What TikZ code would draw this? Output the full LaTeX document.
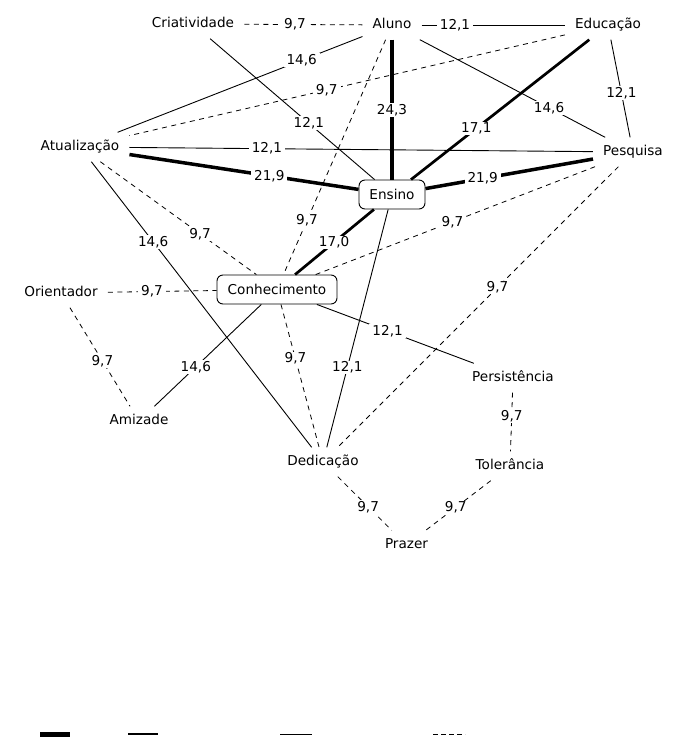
\documentclass[tikz,border=0pt]{standalone}
\usepackage{fontspec}
\setmainfont{DejaVu Sans}
\usetikzlibrary{calc}
\tikzset{
  word/.style={font=\fontsize{13.6}{16}\selectfont, text height=10pt, text depth=3pt, inner xsep=10pt, inner ysep=8pt},
  boxed/.style={draw, line width=0.9pt, rounded corners=6pt, font=\fontsize{13.6}{16}\selectfont, inner sep=0pt, minimum height=29pt, fill=white},
  lbl/.style={fill=white, font=\fontsize{13.6}{16}\selectfont, inner xsep=3pt, inner ysep=1pt},
  weak/.style={line width=0.8pt, dash pattern=on 5pt off 4.5pt},
  w1/.style={line width=0.9pt},
  w2/.style={line width=2.7pt},
  w3/.style={line width=3.5pt},
  w4/.style={line width=4.5pt},
}
\begin{document}
\begin{tikzpicture}[x=1pt,y=-1pt]
\useasboundingbox[fill=white] (0,0) rectangle (687,737);
% nodes
\node[word] (cri) at (193,24) {Criatividade};
\node[word] (alu) at (392,25) {Aluno};
\node[word] (edu) at (608,25) {Educação};
\node[word] (atu) at (80,147) {Atualização};
\node[word] (pes) at (633,152) {Pesquisa};
\node[word] (ori) at (61,293) {Orientador};
\node[word] (ami) at (139,421) {Amizade};
\node[word] (per) at (513,378) {Persistência};
\node[word] (ded) at (323,462) {Dedicação};
\node[word] (tol) at (510,466) {Tolerância};
\node[word] (pra) at (406.5,545) {Prazer};
\node[boxed, minimum width=66pt] (ens) at (392,194.5) {Ensino};
\node[boxed, minimum width=120pt] (con) at (277,289.5) {Conhecimento};
% edges
\draw[weak] (cri) -- (alu);
\draw[w1] (alu) -- (edu);
\draw[w1] (alu) -- (atu);
\draw[weak] (edu) -- (atu);
\draw[w1] (cri) -- (ens);
\draw[w4] (alu) -- (ens);
\draw[w1] (alu) -- (pes);
\draw[w2] (edu) -- (ens);
\draw[w1] (edu) -- (pes);
\draw[w1] (atu) -- (pes);
\draw[w3] (atu) -- (ens);
\draw[w3] (ens) -- (pes);
\draw[weak] (atu) -- (con);
\draw[w1] (atu) -- (ded);
\draw[weak] (alu) -- (con);
\draw[w2] (con) -- (ens);
\draw[weak] (con) -- (pes);
\draw[weak] (ori) -- (con);
\draw[weak] (ori) -- (ami);
\draw[w1] (con) -- (ami);
\draw[weak] (con) -- (ded);
\draw[w1] (ens) -- (ded);
\draw[w1] (con) -- (per);
\draw[weak] (pes) -- (ded);
\draw[weak] (per) -- (tol);
\draw[weak] (ded) -- (pra);
\draw[weak] (tol) -- (pra);
% labels
\node[lbl] (l1) at ($(cri)!(295,23)!(alu)$) {9,7};
\node[lbl] (l2) at ($(alu)!(455,22)!(edu)$) {12,1};
\node[lbl] (l3) at ($(alu)!(300,56)!(atu)$) {14,6};
\node[lbl] (l4) at ($(edu)!(326,87)!(atu)$) {9,7};
\node[lbl] (l5) at ($(cri)!(310,122)!(ens)$) {12,1};
\node[lbl] (l6) at ($(alu)!(391,110)!(ens)$) {24,3};
\node[lbl] (l7) at ($(alu)!(550,106)!(pes)$) {14,6};
\node[lbl] (l8) at ($(edu)!(476,128)!(ens)$) {17,1};
\node[lbl] (l9) at ($(edu)!(622,93)!(pes)$) {12,1};
\node[lbl] (l10) at ($(atu)!(267,147)!(pes)$) {12,1};
\node[lbl] (l11) at ($(atu)!(269,178)!(ens)$) {21,9};
\node[lbl] (l12) at ($(ens)!(483,180)!(pes)$) {21,9};
\node[lbl] (l13) at ($(atu)!(200,234)!(con)$) {9,7};
\node[lbl] (l14) at ($(atu)!(157,239)!(ded)$) {14,6};
\node[lbl] (l15) at ($(alu)!(303,219)!(con)$) {9,7};
\node[lbl] (l16) at ($(con)!(333,241)!(ens)$) {17,0};
\node[lbl] (l17) at ($(con)!(451,218)!(pes)$) {9,7};
\node[lbl] (l18) at ($(ori)!(152,291)!(con)$) {9,7};
\node[lbl] (l19) at ($(ori)!(104,360)!(ami)$) {9,7};
\node[lbl] (l20) at ($(con)!(195,366)!(ami)$) {14,6};
\node[lbl] (l21) at ($(con)!(298,358)!(ded)$) {9,7};
\node[lbl] (l22) at ($(ens)!(345,367)!(ded)$) {12,1};
\node[lbl] (l23) at ($(con)!(388,330)!(per)$) {12,1};
\node[lbl] (l24) at ($(pes)!(494,284)!(ded)$) {9,7};
\node[lbl] (l25) at ($(per)!(511,416)!(tol)$) {9,7};
\node[lbl] (l26) at ($(ded)!(369,506)!(pra)$) {9,7};
\node[lbl] (l27) at ($(tol)!(453,504)!(pra)$) {9,7};
% legend samples (cut off at the bottom)
\coordinate (k1a) at (40,734.5); \coordinate (k1b) at (70,734.5);
\coordinate (k2a) at (128,734); \coordinate (k2b) at (158,734);
\coordinate (k3a) at (280,734.5); \coordinate (k3b) at (312,734.5);
\coordinate (k4a) at (433,734.5); \coordinate (k4b) at (465,734.5);
\draw[line width=5pt] (k1a) -- (k1b);
\draw[line width=2pt] (k2a) -- (k2b);
\draw[line width=1pt] (k3a) -- (k3b);
\draw[line width=1pt, dash pattern=on 5pt off 3pt] (k4a) -- (k4b);
\end{tikzpicture}
\end{document}
